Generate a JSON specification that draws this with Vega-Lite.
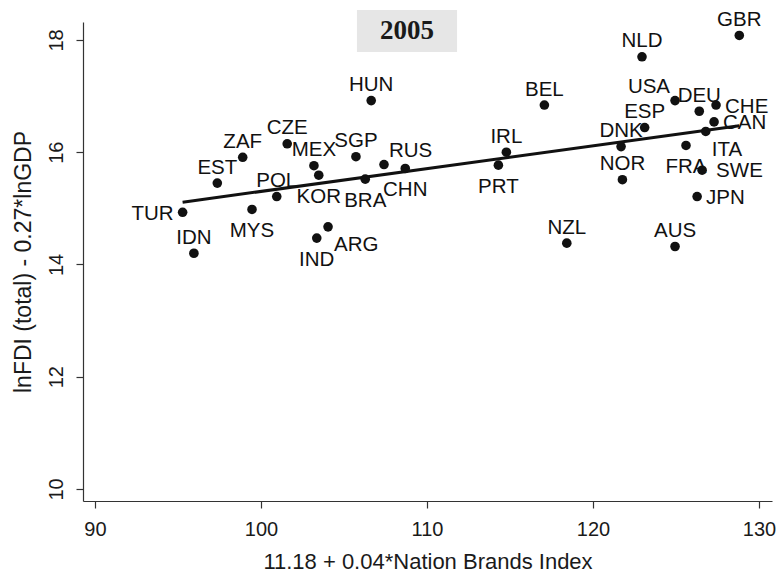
{
  "$schema": "https://vega.github.io/schema/vega-lite/v6.json",
  "width": 689,
  "height": 479,
  "autosize": {"type": "none"},
  "padding": {"left": 83, "top": 22, "right": 7, "bottom": 83},
  "background": "white",
  "config": {"view": {"stroke": null}, "font": "Liberation Sans"},
  "datasets": {
    "countries": [
      {"country": "TUR", "nbi": 95.28, "fdi": 14.93},
      {"country": "IDN", "nbi": 95.96, "fdi": 14.20},
      {"country": "EST", "nbi": 97.37, "fdi": 15.45},
      {"country": "ZAF", "nbi": 98.90, "fdi": 15.91},
      {"country": "CZE", "nbi": 101.58, "fdi": 16.15},
      {"country": "MEX", "nbi": 103.19, "fdi": 15.76},
      {"country": "KOR", "nbi": 103.48, "fdi": 15.59},
      {"country": "POL", "nbi": 100.95, "fdi": 15.21},
      {"country": "MYS", "nbi": 99.46, "fdi": 14.98},
      {"country": "ARG", "nbi": 104.04, "fdi": 14.67},
      {"country": "IND", "nbi": 103.36, "fdi": 14.47},
      {"country": "BRA", "nbi": 106.28, "fdi": 15.52},
      {"country": "RUS", "nbi": 107.41, "fdi": 15.78},
      {"country": "CHN", "nbi": 108.69, "fdi": 15.71},
      {"country": "SGP", "nbi": 105.72, "fdi": 15.92},
      {"country": "HUN", "nbi": 106.64, "fdi": 16.92},
      {"country": "GBR", "nbi": 128.81, "fdi": 18.08},
      {"country": "NLD", "nbi": 122.95, "fdi": 17.70},
      {"country": "BEL", "nbi": 117.07, "fdi": 16.84},
      {"country": "USA", "nbi": 124.94, "fdi": 16.92},
      {"country": "DEU", "nbi": 126.40, "fdi": 16.73},
      {"country": "CHE", "nbi": 127.41, "fdi": 16.84},
      {"country": "CAN", "nbi": 127.29, "fdi": 16.54},
      {"country": "ITA", "nbi": 126.79, "fdi": 16.37},
      {"country": "ESP", "nbi": 123.11, "fdi": 16.44},
      {"country": "DNK", "nbi": 121.69, "fdi": 16.10},
      {"country": "IRL", "nbi": 114.78, "fdi": 16.00},
      {"country": "PRT", "nbi": 114.30, "fdi": 15.77},
      {"country": "NOR", "nbi": 121.77, "fdi": 15.51},
      {"country": "FRA", "nbi": 125.60, "fdi": 16.12},
      {"country": "SWE", "nbi": 126.57, "fdi": 15.68},
      {"country": "JPN", "nbi": 126.27, "fdi": 15.21},
      {"country": "NZL", "nbi": 118.42, "fdi": 14.38},
      {"country": "AUS", "nbi": 124.94, "fdi": 14.32}
    ],
    "fit": [
      {"nbi": 95.28, "fdi": 15.11},
      {"nbi": 128.81, "fdi": 16.47}
    ],
    "year": [
      {"label": "2005", "x1": 105.78, "x2": 111.81, "y1": 18.535, "y2": 17.786, "xm": 108.8, "ym": 18.16}
    ]
  },
  "data": {"name": "countries"},
  "encoding": {
    "x": {
      "field": "nbi", "type": "quantitative",
      "scale": {"domain": [89.28, 130.78], "nice": false, "zero": false},
      "axis": {
        "title": "11.18 + 0.04*Nation Brands Index",
        "values": [90, 100, 110, 120, 130],
        "grid": false,
        "domainColor": "#333333", "domainWidth": 1.2,
        "tickColor": "#333333", "tickWidth": 1.2, "tickSize": 7,
        "labelFontSize": 20, "labelColor": "#1a1a1a", "labelPadding": 11,
        "titleFontSize": 22, "titleFontWeight": "normal", "titleColor": "#1a1a1a", "titlePadding": 12
      }
    },
    "y": {
      "field": "fdi", "type": "quantitative",
      "scale": {"domain": [9.786, 18.32], "nice": false, "zero": false},
      "axis": {
        "title": "lnFDI (total) - 0.27*lnGDP",
        "values": [10, 12, 14, 16, 18],
        "grid": false,
        "domainColor": "#333333", "domainWidth": 1.2,
        "tickColor": "#333333", "tickWidth": 1.2, "tickSize": 7,
        "labelFontSize": 20, "labelColor": "#1a1a1a", "labelPadding": 10,
        "labelAngle": 270, "labelAlign": "center", "labelBaseline": "bottom",
        "titleFontSize": 23, "titleFontWeight": "normal", "titleColor": "#1a1a1a", "titlePadding": 11
      }
    }
  },
  "layer": [
    {
      "data": {"name": "year"},
      "mark": {"type": "rect", "fill": "#e6e6e6"},
      "encoding": {
        "x": {"field": "x1", "type": "quantitative"},
        "x2": {"field": "x2"},
        "y": {"field": "y1", "type": "quantitative"},
        "y2": {"field": "y2"}
      }
    },
    {
      "data": {"name": "year"},
      "mark": {"type": "text", "font": "Liberation Serif", "fontSize": 27, "fontWeight": "bold", "color": "#1a1a1a", "align": "center", "baseline": "middle"},
      "encoding": {
        "x": {"field": "xm", "type": "quantitative"},
        "y": {"field": "ym", "type": "quantitative"},
        "text": {"field": "label"}
      }
    },
    {
      "data": {"name": "fit"},
      "mark": {"type": "line", "color": "#111111", "strokeWidth": 3},
      "encoding": {}
    },
    {
      "mark": {"type": "circle", "color": "#111111", "opacity": 1, "size": 92}
    },
    {
      "transform": [{"filter": {"field": "country", "oneOf": ["IDN", "EST", "ZAF", "CZE", "MEX", "POL", "SGP", "HUN", "GBR", "NLD", "BEL", "DEU", "ESP", "DNK", "IRL", "NOR", "NZL", "AUS"]}}],
      "mark": {"type": "text", "fontSize": 20.5, "color": "#111111", "align": "center", "baseline": "middle", "dy": -15.3},
      "encoding": {"text": {"field": "country"}}
    },
    {
      "transform": [{"filter": {"field": "country", "oneOf": ["KOR", "MYS", "IND", "BRA", "CHN", "PRT", "FRA"]}}],
      "mark": {"type": "text", "fontSize": 20.5, "color": "#111111", "align": "center", "baseline": "middle", "dy": 22},
      "encoding": {"text": {"field": "country"}}
    },
    {
      "transform": [{"filter": {"field": "country", "oneOf": ["TUR"]}}],
      "mark": {"type": "text", "fontSize": 20.5, "color": "#111111", "align": "right", "baseline": "middle", "dx": -9, "dy": 1.5},
      "encoding": {"text": {"field": "country"}}
    },
    {
      "transform": [{"filter": {"field": "country", "oneOf": ["CHE", "CAN", "JPN"]}}],
      "mark": {"type": "text", "fontSize": 20.5, "color": "#111111", "align": "left", "baseline": "middle", "dx": 9, "dy": 1.5},
      "encoding": {"text": {"field": "country"}}
    },
    {
      "transform": [{"filter": {"field": "country", "oneOf": ["SWE"]}}],
      "mark": {"type": "text", "fontSize": 20.5, "color": "#111111", "align": "left", "baseline": "middle", "dx": 14, "dy": 1},
      "encoding": {"text": {"field": "country"}}
    },
    {
      "transform": [{"filter": {"field": "country", "oneOf": ["ARG", "ITA"]}}],
      "mark": {"type": "text", "fontSize": 20.5, "color": "#111111", "align": "left", "baseline": "middle", "dx": 6, "dy": 18.5},
      "encoding": {"text": {"field": "country"}}
    },
    {
      "transform": [{"filter": {"field": "country", "oneOf": ["RUS"]}}],
      "mark": {"type": "text", "fontSize": 20.5, "color": "#111111", "align": "left", "baseline": "middle", "dx": 5, "dy": -14},
      "encoding": {"text": {"field": "country"}}
    },
    {
      "transform": [{"filter": {"field": "country", "oneOf": ["USA"]}}],
      "mark": {"type": "text", "fontSize": 20.5, "color": "#111111", "align": "right", "baseline": "middle", "dx": -5, "dy": -14},
      "encoding": {"text": {"field": "country"}}
    }
  ]
}
